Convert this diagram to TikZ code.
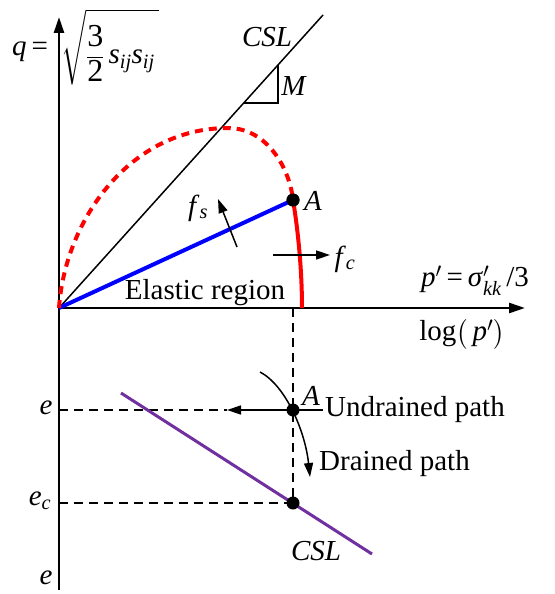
\documentclass[tikz,border=0pt]{standalone}
\usepackage{amsmath}
\usepackage{fontspec}
\setmainfont{Liberation Serif}
\usetikzlibrary{arrows.meta}
\definecolor{myred}{RGB}{255,0,0}
\definecolor{myblue}{RGB}{0,0,255}
\definecolor{mypurple}{RGB}{112,48,160}
\newcommand{\vi}[1]{\textit{#1}}
\newcommand{\bigdig}[1]{\text{\fontsize{32}{32}\selectfont #1}}
\begin{document}
\begin{tikzpicture}[x=1pt,y=-1pt,font=\fontsize{29}{34}\selectfont,
  axis/.style={line width=2.5pt,-{Triangle[length=16pt,width=10pt]}},
  thinline/.style={line width=1.5pt},
  dashline/.style={line width=1.5pt,dash pattern=on 9pt off 6pt},
  dot/.style={circle,fill=black,inner sep=0pt,minimum size=13pt},
  arr/.style={line width=1.5pt,-{Triangle[length=14pt,width=9pt]}},
  lbl/.style={inner sep=0pt}]
\useasboundingbox (0,0) rectangle (554,594);
% coordinates
\coordinate (O) at (59,308);
\coordinate (qtop) at (59,17);
\coordinate (qbot) at (59,590);
\coordinate (ptip) at (525,308);
\coordinate (cslend) at (323,15);
\coordinate (t1) at (243.5,103);
\coordinate (t2) at (278,103);
\coordinate (t3) at (278,65);
\coordinate (peak) at (228,128);
\coordinate (fcend) at (302,308);
\coordinate (P) at (293,308);
\coordinate (fs1) at (237,247);
\coordinate (fs2) at (218,199);
\coordinate (fc1) at (273,255);
\coordinate (fc2) at (330,255);
\coordinate (pu1) at (121,393);
\coordinate (pu2) at (372,554);
\coordinate (eaxis) at (59,410);
\coordinate (ecaxis) at (59,503);
\coordinate (uarrow) at (227,410);
\coordinate (uright) at (323,410);
\coordinate (dstart) at (260,372);
\coordinate (dend) at (310,477);
% axes
\draw[axis] (qbot) -- (qtop);
\draw[axis] (O) -- (ptip);
% CSL line and slope triangle
\draw[thinline] (O) -- (cslend);
\draw[thinline] (t1) -- (t2) -- (t3);
% dashed projection lines
\draw[dashline] (P) -- (293,503);
\draw[dashline] (eaxis) -- (uarrow);
\draw[dashline] (ecaxis) -- (293,503);
% stress path and yield surface
\node[dot] (A) at (293,200) {};
\draw[myblue,line width=4pt] (O) -- (A.center);
\draw[myred,line width=4pt,dash pattern=on 8pt off 6pt] (O) .. controls (65,220) and (130,128) .. (peak) .. controls (268,128) and (290,170) .. (A.center);
\draw[myred,line width=4pt] (A.center) .. controls (298,230) and (302,270) .. (fcend);
\node[dot] at (A) {};
% hardening arrows
\draw[arr] (fs1) -- (fs2);
\draw[arr] (fc1) -- (fc2);
% e - log p' plot
\draw[mypurple,line width=3pt] (pu1) -- (pu2);
\draw[arr] (uright) -- (uarrow);
\draw[arr] (dstart) .. controls (285,385) and (305,430) .. (dend);
\node[dot] (A2) at (293,410) {};
\node[dot] (C) at (293,503) {};
% labels
\node[lbl,anchor=base west] (qlab) at (12,56) {\vi{q}\,=};
\node[lbl,anchor=north west] (sqrtlab) at (61,9) {$\sqrt{\dfrac{\rule{0pt}{31pt}\bigdig{3}}{\bigdig{2}}\,\vi{s}_{\vi{ij}}\vi{s}_{\vi{ij}}\,}$};
\node[lbl] (csl1) at (267,37) {\vi{CSL}};
\node[lbl] (M) at (294,86) {\vi{M}};
\node[lbl] (Alab) at (313,201) {\vi{A}};
\node[lbl] (fs) at (198,208) {\vi{f}$_{\vi{s}}$};
\node[lbl] (fc) at (345,259) {\vi{f}$_{\vi{c}}$};
\node[lbl] (el) at (205,293) {Elastic region};
\node[lbl] (plab) at (475,281) {\vi{p}$'$\,=\,\vi{σ}$'_{\vi{kk}}$\,/3};
\node[lbl] (loglab) at (462,334) {log$\bigl($\,\vi{p}$'\bigr)$};
\node[lbl] (e1) at (46,408) {\vi{e}};
\node[lbl] (ec) at (40,501) {\vi{e}$_{\vi{c}}$};
\node[lbl] (e2) at (46,578) {\vi{e}};
\node[lbl] (A2lab) at (311,396) {\vi{A}};
\node[lbl,anchor=west] (und) at (325,410) {Undrained path};
\node[lbl,anchor=west] (dra) at (319,464) {Drained path};
\node[lbl] (csl2) at (316,551) {\vi{CSL}};
\end{tikzpicture}
\end{document}
